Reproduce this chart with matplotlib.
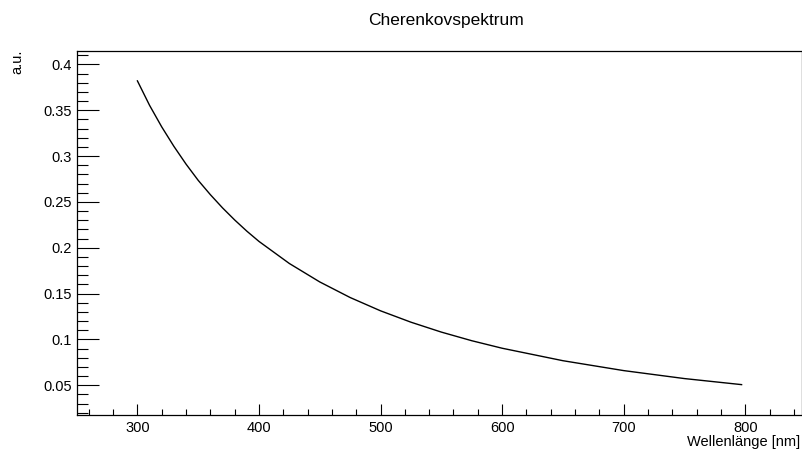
import matplotlib
matplotlib.use('Agg')

import matplotlib.pyplot as plt
from matplotlib.ticker import MultipleLocator

plt.rcParams['font.family'] = ['Liberation Sans', 'DejaVu Sans']

# wavelength [nm] and relative Cherenkov yield
wavelength = [300, 310, 320, 330, 340, 350, 360, 370, 380, 390, 400,
              425, 450, 475, 500, 525, 550, 575, 600, 650, 700, 750, 797]
intensity = [0.382, 0.3553, 0.3318, 0.3106, 0.2912, 0.2735, 0.2579, 0.2435,
             0.2303, 0.2181, 0.2069, 0.1828, 0.1627, 0.1457, 0.1312, 0.1188,
             0.1080, 0.0986, 0.0904, 0.0768, 0.0660, 0.0573, 0.0507]

title = "Cherenkovspektrum"
xlabel = "Wellenlänge [nm]"
ylabel = "a.u."

fig = plt.figure(figsize=(8.03, 4.5), dpi=100)
ax = fig.add_axes([77 / 803, 35 / 450, 725 / 803, 364.5 / 450])

ax.plot(wavelength, intensity, color='black', lw=1.0)

# graph-style range: 10% margin around the data
xr = max(wavelength) - min(wavelength)
yr = max(intensity) - min(intensity)
ax.set_xlim(min(wavelength) - 0.1 * xr, max(wavelength) + 0.1 * xr)
ax.set_ylim(min(intensity) - 0.1 * yr, max(intensity) + 0.1 * yr)

ax.xaxis.set_major_locator(MultipleLocator(100))
ax.xaxis.set_minor_locator(MultipleLocator(20))
ax.yaxis.set_major_locator(MultipleLocator(0.05))
ax.yaxis.set_minor_locator(MultipleLocator(0.01))
ax.yaxis.set_major_formatter(plt.FuncFormatter(lambda v, p: f"{v:g}"))

ax.tick_params(axis='both', which='both', direction='in', width=0.8,
               top=False, right=False, labelsize=10.5, colors='black')
ax.tick_params(axis='y', which='major', length=15.8, pad=3.6)
ax.tick_params(axis='y', which='minor', length=7.9)
ax.tick_params(axis='x', which='major', length=7.9, pad=4.2)
ax.tick_params(axis='x', which='minor', length=4.0)

for s in ax.spines.values():
    s.set_linewidth(0.9)

fig.text(446 / 803, 1 - 20 / 450, title, ha='center', va='center', fontsize=12.5)
fig.text(800 / 803, 1 - 442 / 450, xlabel, ha='right', va='center', fontsize=10.5)
fig.text(17 / 803, 1 - 50 / 450, ylabel, ha='center', va='top',
         rotation=90, fontsize=10.5)

fig.savefig('out.png', dpi=100)
